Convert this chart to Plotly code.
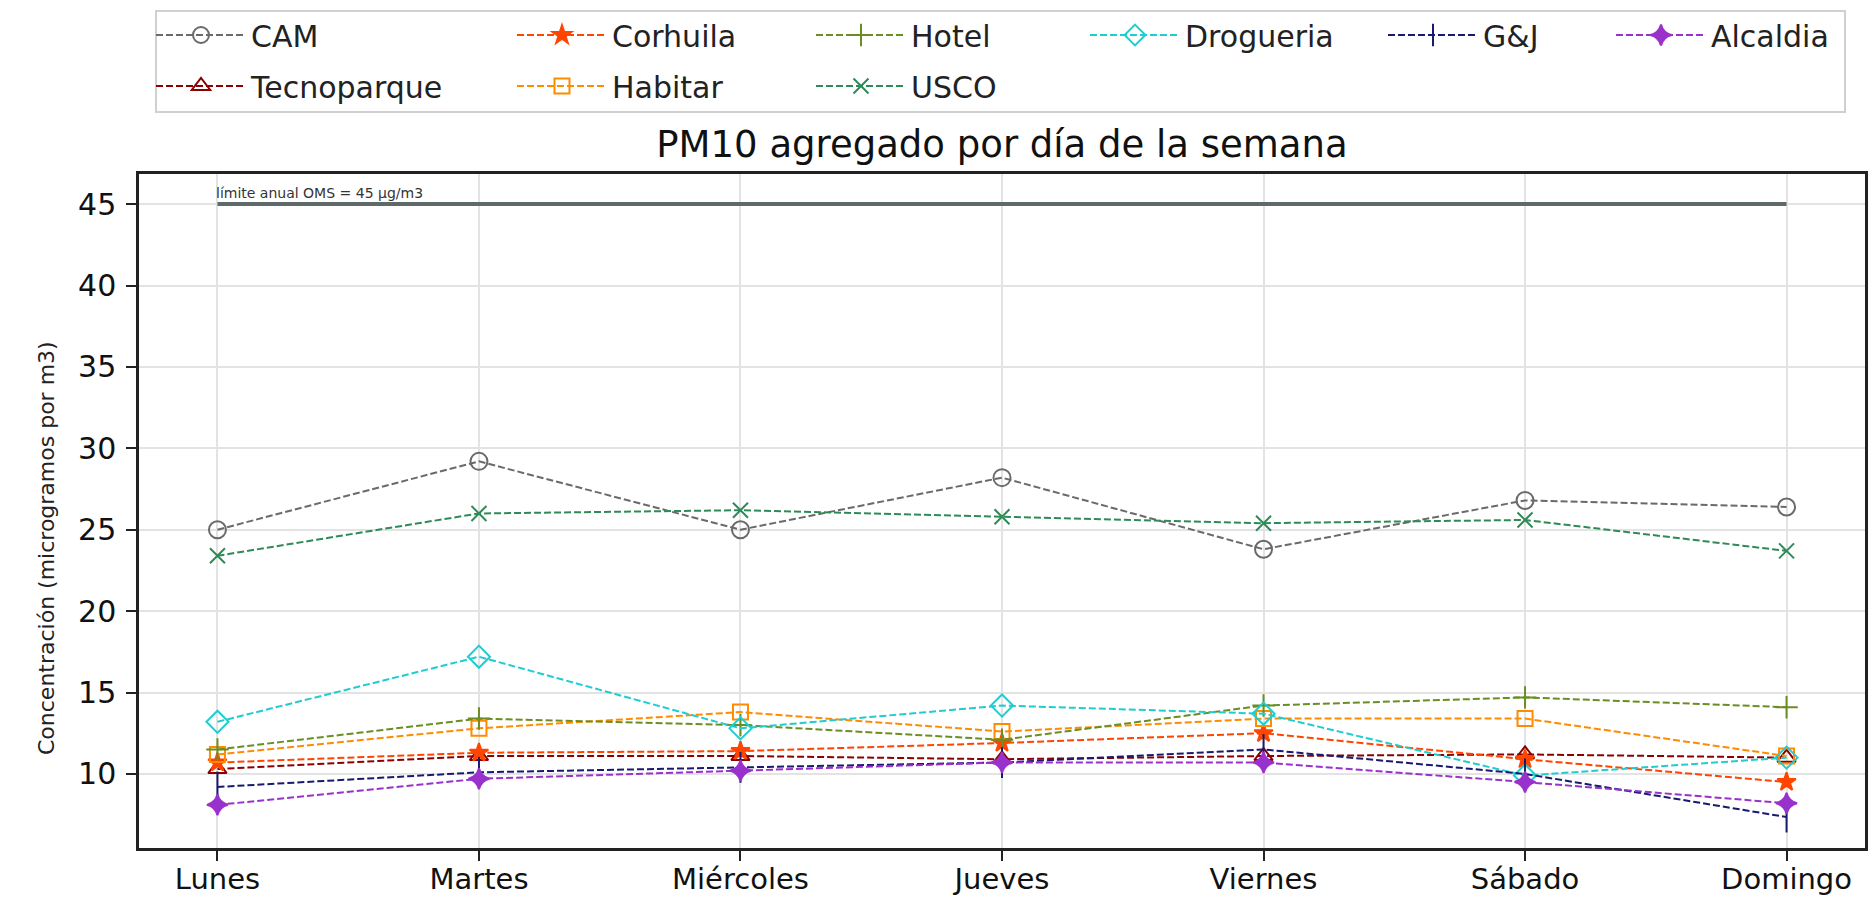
import plotly.graph_objects as go

days = ["Lunes", "Martes", "Miércoles", "Jueves", "Viernes", "Sábado", "Domingo"]

cam = [25.0, 29.2, 25.0, 28.2, 23.8, 26.8, 26.4]
tecnoparque = [10.3, 11.1, 11.1, 10.9, 11.1, 11.2, 11.0]
corhuila = [10.7, 11.3, 11.4, 11.9, 12.5, 10.9, 9.5]
habitar = [11.2, 12.8, 13.8, 12.6, 13.4, 13.4, 11.1]
hotel = [11.5, 13.4, 13.0, 12.1, 14.2, 14.7, 14.1]
usco = [23.4, 26.0, 26.2, 25.8, 25.4, 25.6, 23.7]
drogueria = [13.2, 17.2, 12.8, 14.2, 13.7, 9.9, 11.0]
gj = [9.2, 10.1, 10.4, 10.7, 11.5, 10.0, 7.35]
alcaldia = [8.1, 9.7, 10.2, 10.7, 10.7, 9.5, 8.2]

limite_oms = 45
limite_texto = "límite anual OMS = 45 µg/m3"

series = [
    ("CAM", cam, "#6a6a6a", "circle-open", 17),
    ("Tecnoparque", tecnoparque, "#8b0000", "triangle-up-open", 16),
    ("Corhuila", corhuila, "#ff4500", "star", 14),
    ("Habitar", habitar, "#ff8c00", "square-open", 15),
    ("Hotel", hotel, "#6b8e23", "cross-thin-open", 16),
    ("USCO", usco, "#2e8b57", "x-thin-open", 15),
    ("Drogueria", drogueria, "#1fcdd0", "diamond-open", 17),
    ("G&J", gj, "#191970", "line-ns-open", 22),
    ("Alcaldia", alcaldia, "#9932cc", "star-diamond", 15),
]

# legend slots (marker centre x in px, row centre y in px)
slots = [(198, 35), (198, 86), (559, 35), (559, 86), (858, 35), (858, 86),
         (1132, 35), (1430, 35), (1658, 35)]

W, H = 1868, 898
fig = go.Figure()

layout_legends = {}
for i, (name, vals, col, sym, sz) in enumerate(series):
    lname = "legend" if i == 0 else f"legend{i+1}"
    fig.add_trace(go.Scatter(
        x=days, y=vals, mode="lines+markers", name=name, legend=lname,
        line=dict(color=col, width=2, dash="7px,3px"),
        marker=dict(symbol=sym, size=sz, color=col, line=dict(color=col, width=2)),
    ))
    mx, my = slots[i]
    layout_legends[lname] = dict(
        xref="container", yref="container",
        x=(mx - 47) / W, y=1 - my / H, xanchor="left", yanchor="middle",
        bgcolor="rgba(0,0,0,0)", borderwidth=0, itemwidth=90,
        font=dict(family="DejaVu Sans", size=30, color="#222"),
    )

fig.add_trace(go.Scatter(
    x=[days[0], days[-1]], y=[limite_oms, limite_oms], mode="lines",
    line=dict(color="#5e6a6a", width=4), showlegend=False, hoverinfo="skip"))

fig.add_annotation(x=days[0], y=limite_oms, xref="x", yref="y", text=limite_texto,
                   showarrow=False, xanchor="left", yanchor="bottom", yshift=1, xshift=-3,
                   font=dict(family="DejaVu Sans", size=14, color="#333"))

x0p, x1p = 139, 1865
y0p, y1p = 174, 848
pw, ph = x1p - x0p, y1p - y0p

fig.add_annotation(x=(46 - x0p) / pw, y=(y1p - 548) / ph, xref="paper", yref="paper",
                   text="Concentración (microgramos por m3)", textangle=-90,
                   showarrow=False, xanchor="center", yanchor="middle",
                   font=dict(family="DejaVu Sans", size=22, color="#222"))

# legend frame
fig.add_shape(type="rect", xref="paper", yref="paper",
              x0=(156 - x0p) / pw, x1=(1845 - x0p) / pw,
              y0=(y1p - 112) / ph, y1=(y1p - 11) / ph,
              line=dict(color="#d0d0d0", width=2), fillcolor="white", layer="below")

axis_common = dict(showline=True, linecolor="#222", linewidth=2.5, mirror=True,
                   ticks="outside", ticklen=10, tickwidth=2, tickcolor="#222",
                   showgrid=True, gridcolor="#e3e3e3", gridwidth=1.5, zeroline=False)

fig.update_layout(
    width=W, height=H,
    margin=dict(l=x0p, r=W - x1p, t=y0p, b=H - y1p, autoexpand=False),
    paper_bgcolor="white", plot_bgcolor="white",
    title=dict(text="PM10 agregado por día de la semana", x=0.5, xref="paper",
               y=1 - 144 / H, yref="container", xanchor="center", yanchor="middle",
               font=dict(family="DejaVu Sans", size=37, color="#111")),
    xaxis=dict(type="category", categoryorder="array", categoryarray=days,
               range=[-0.3, 6.3], ticklabelstandoff=-7,
               tickfont=dict(family="DejaVu Sans", size=29, color="#111"), **axis_common),
    yaxis=dict(range=[5.45, 46.85], tickvals=[10, 15, 20, 25, 30, 35, 40, 45],
               ticklabelstandoff=4,
               tickfont=dict(family="DejaVu Sans", size=30, color="#111"), **axis_common),
    **layout_legends,
)

fig.write_html("out.html", config={"displayModeBar": False},
               post_script="document.body.style.margin='0';document.body.style.overflow='hidden';")
